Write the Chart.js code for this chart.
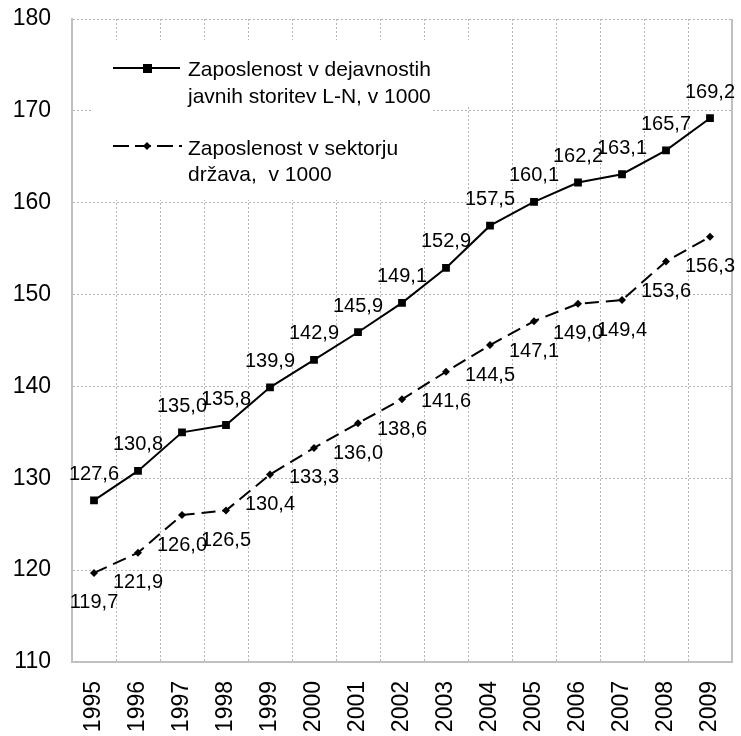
<!DOCTYPE html>
<html>
<head>
<meta charset="utf-8">
<script src="https://cdn.jsdelivr.net/npm/chart.js@4/dist/chart.umd.min.js"></script>
<style>
  html, body { margin: 0; padding: 0; background: #fff; }
  #wrap { width: 741px; height: 736px; }
</style>
</head>
<body>
<div id="wrap"><canvas id="empChart" width="741" height="736"></canvas></div>
<script>
const years = ["1995", "1996", "1997", "1998", "1999", "2000", "2001", "2002",
  "2003", "2004", "2005", "2006", "2007", "2008", "2009"];

const javneStoritve = [127.6, 130.8, 135.0, 135.8, 139.9, 142.9, 145.9, 149.1,
  152.9, 157.5, 160.1, 162.2, 163.1, 165.7, 169.2];

const sektorDrzava = [119.7, 121.9, 126.0, 126.5, 130.4, 133.3, 136.0, 138.6,
  141.6, 144.5, 147.1, 149.0, 149.4, 153.6, 156.3];

const legendLines = [
  ["Zaposlenost v dejavnostih", "javnih storitev L-N, v 1000"],
  ["Zaposlenost v sektorju", "država,  v 1000"]
];

const FONT = "'Liberation Sans', Arial, sans-serif";
const GRID = "#b4b4b4";
const AXIS = "#c0c0c0";

const fmt = v => v.toFixed(1).replace(".", ",");

// white box behind the legend, drawn over the grid
const legendBox = {
  id: "legendBox",
  beforeDatasetsDraw(chart) {
    const c = chart.ctx;
    c.save();
    c.fillStyle = "#fff";
    c.fillRect(91, 40, 378, 67);
    c.fillRect(91, 107, 340, 93);
    // right edge of plot area
    const a = chart.chartArea;
    c.strokeStyle = AXIS;
    c.lineWidth = 2;
    c.beginPath();
    c.moveTo(a.right, a.top);
    c.lineTo(a.right, a.bottom);
    c.stroke();
    c.restore();
  },
  afterDraw(chart) {
    const c = chart.ctx;
    c.save();
    c.font = "21px " + FONT;
    c.fillStyle = "#000";
    c.textBaseline = "middle";
    c.textAlign = "left";

    // entry 1: solid line with square
    c.strokeStyle = "#000";
    c.lineWidth = 2;
    c.beginPath();
    c.moveTo(113, 68);
    c.lineTo(180, 68);
    c.stroke();
    c.fillRect(143, 64, 9, 9);
    c.fillText(legendLines[0][0], 188, 70);
    c.fillText(legendLines[0][1], 188, 97);

    // entry 2: dashed line with diamond
    c.setLineDash([16, 6]);
    c.beginPath();
    c.moveTo(113, 146);
    c.lineTo(182, 146);
    c.stroke();
    c.setLineDash([]);
    c.beginPath();
    c.moveTo(143, 146);
    c.lineTo(147, 142);
    c.lineTo(151, 146);
    c.lineTo(147, 150);
    c.closePath();
    c.fill();
    c.fillText(legendLines[1][0], 188, 149);
    c.fillText(legendLines[1][1], 188, 175);
    c.restore();
  }
};

// value labels: above for the first series, below for the second
const valueLabels = {
  id: "valueLabels",
  afterDatasetsDraw(chart) {
    const c = chart.ctx;
    c.save();
    c.font = "20px " + FONT;
    c.fillStyle = "#000";
    c.textAlign = "center";
    c.textBaseline = "middle";
    chart.data.datasets.forEach((ds, i) => {
      const meta = chart.getDatasetMeta(i);
      const dy = i === 0 ? -26 : 30;
      meta.data.forEach((pt, j) => {
        c.fillText(fmt(ds.data[j]), pt.x, pt.y + dy);
      });
    });
    c.restore();
  }
};

new Chart(document.getElementById("empChart"), {
  type: "line",
  data: {
    labels: years,
    datasets: [
      {
        label: legendLines[0].join(" "),
        data: javneStoritve,
        borderColor: "#000",
        backgroundColor: "#000",
        borderWidth: 2,
        pointStyle: "rect",
        pointRadius: 5.5,
        pointBorderWidth: 0,
        tension: 0
      },
      {
        label: legendLines[1].join(" "),
        data: sektorDrzava,
        borderColor: "#000",
        backgroundColor: "#000",
        borderWidth: 2,
        borderDash: [14, 7],
        pointStyle: "rectRot",
        pointRadius: 4,
        pointBorderWidth: 0,
        tension: 0
      }
    ]
  },
  options: {
    responsive: false,
    animation: false,
    layout: { padding: { top: 19, right: 9, left: 0, bottom: 0 } },
    plugins: {
      legend: { display: false },
      tooltip: { enabled: false }
    },
    scales: {
      x: {
        offset: true,
        grid: { color: GRID, lineWidth: 1, drawTicks: false, offset: true },
        border: { display: true, color: AXIS, width: 2, dash: [2, 2] },
        ticks: {
          color: "#000",
          font: { family: FONT, size: 23 },
          minRotation: 90,
          maxRotation: 90,
          padding: 19,
          autoSkip: false
        },
        afterFit(scale) {
          scale.height = 74;
          scale.paddingLeft = 0;
          scale.paddingRight = 0;
        }
      },
      y: {
        min: 110,
        max: 180,
        grid: { color: GRID, lineWidth: 1, drawTicks: false },
        border: { display: true, color: AXIS, width: 2, dash: [2, 2] },
        ticks: {
          stepSize: 10,
          color: "#000",
          font: { family: FONT, size: 23 },
          padding: 21
        },
        afterFit(scale) {
          scale.width = 72;
          scale.paddingTop = 0;
          scale.paddingBottom = 0;
        }
      }
    }
  },
  plugins: [legendBox, valueLabels]
});
</script>
</body>
</html>
